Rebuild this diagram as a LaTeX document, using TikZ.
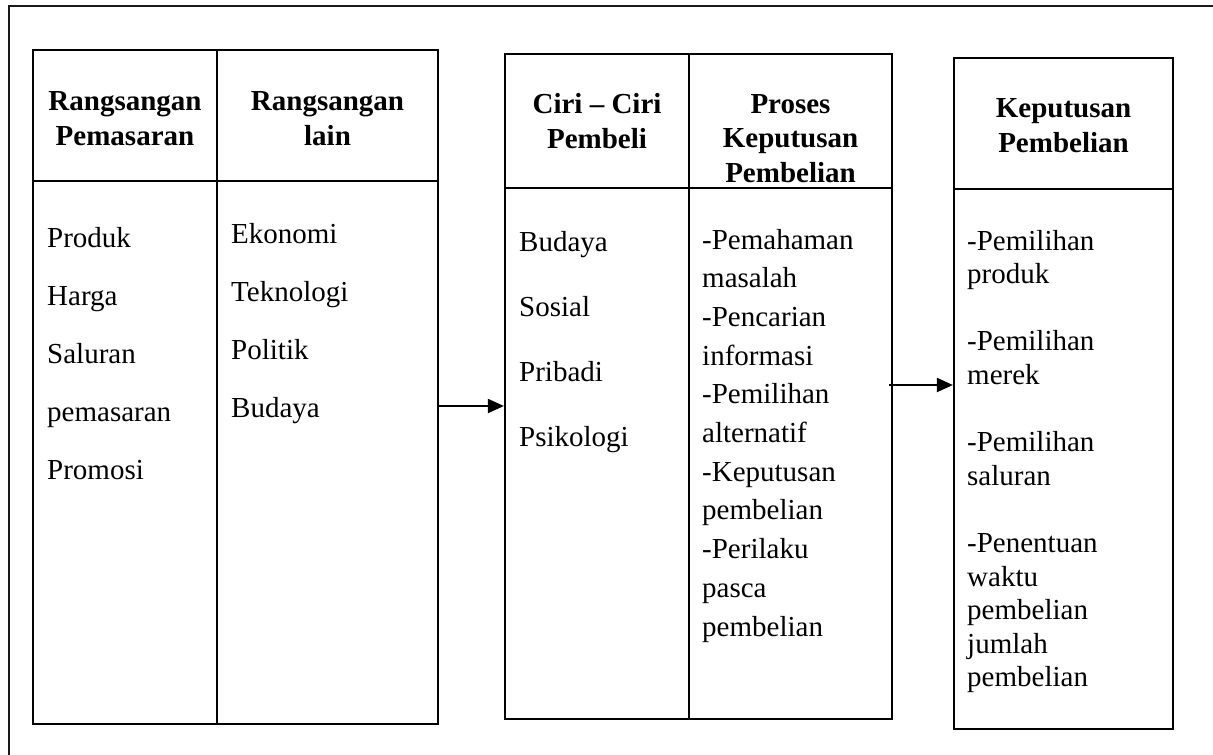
\documentclass[tikz,border=0pt]{standalone}
\usepackage{fontspec}
\setmainfont{Liberation Serif}
\usetikzlibrary{arrows.meta}

\tikzset{
  panel/.style={draw, line width=2.2pt, inner sep=0pt, fill=none},
  rule/.style={line width=2.2pt},
  frame/.style={line width=2pt, draw=black!90},
  head/.style={font=\fontsize{29}{34.5}\selectfont\bfseries, align=center, inner sep=0pt, anchor=base},
  body/.style={font=\fontsize{29}{34}\selectfont, inner sep=0pt, anchor=base west},
  link/.style={line width=2pt, -{Triangle[length=16pt, width=14pt]}},
}

\begin{document}
\begin{tikzpicture}[x=1pt, y=-1pt]
  \clip (0,0) rectangle (1213,755);
  \fill[white] (0,0) rectangle (1213,755);

  % surrounding frame, open to the right and below
  \draw[frame] (9,800) -- (9,6) -- (1260,6);

  % three panels
  \node[panel, minimum width=405pt, minimum height=674pt] (b1) at (235.5,387) {};
  \node[panel, minimum width=387pt, minimum height=665pt] (b2) at (698.5,386.5) {};
  \node[panel, minimum width=219pt, minimum height=671pt] (b3) at (1063.5,393.5) {};

  % header rules and column dividers
  \coordinate (h1) at (0,181);
  \coordinate (h2) at (0,188);
  \coordinate (h3) at (0,189);
  \coordinate (d1) at (217,0);
  \coordinate (d2) at (689,0);
  \draw[rule] (b1.west |- h1) -- (b1.east |- h1);
  \draw[rule] (b2.west |- h2) -- (b2.east |- h2);
  \draw[rule] (b3.west |- h3) -- (b3.east |- h3);
  \draw[rule] (d1 |- b1.north) -- (d1 |- b1.south);
  \draw[rule] (d2 |- b2.north) -- (d2 |- b2.south);

  % headers (a multi-line node sits on the baseline of its last line)
  \node[head] (t11) at (125,145) {Rangsangan\\Pemasaran};
  \node[head] (t12) at (327.5,145) {Rangsangan\\lain};
  \node[head] (t21) at (597,148) {Ciri -- Ciri\\Pembeli};
  \node[head] (t22) at (790.5,182) {Proses\\Keputusan\\Pembelian};
  \node[head] (t31) at (1063.5,152) {Keputusan\\Pembelian};

  % panel contents
  \foreach \t [count=\i] in {Produk,Harga,Saluran,pemasaran,Promosi}
    \node[body] (p1-\i) at (47,247+58*\i-58) {\t};
  \foreach \t [count=\i] in {Ekonomi,Teknologi,Politik,Budaya}
    \node[body] (p2-\i) at (231,243+58*\i-58) {\t};
  \foreach \t [count=\i] in {Budaya,Sosial,Pribadi,Psikologi}
    \node[body] (p3-\i) at (519,251+65*\i-65) {\t};
  \foreach \t [count=\i] in {-Pemahaman,masalah,-Pencarian,informasi,-Pemilihan,alternatif,-Keputusan,pembelian,-Perilaku,pasca,pembelian}
    \node[body] (p4-\i) at (702,249+38.7*\i-38.7) {\t};
  \foreach \t/\k [count=\i] in {-Pemilihan/0,produk/1,-Pemilihan/3,merek/4,-Pemilihan/6,saluran/7,-Penentuan/9,waktu/10,pembelian/11,jumlah/12,pembelian/13}
    \node[body] (p5-\i) at (967,250+33.6*\k) {\t};

  % connectors between panels
  \coordinate (a1) at (0,406);
  \coordinate (a2) at (0,385);
  \draw[link] (b1.east |- a1) -- (b2.west |- a1);
  \draw[link] ([xshift=-4pt]b2.east |- a2) -- (b3.west |- a2);
\end{tikzpicture}
\end{document}
